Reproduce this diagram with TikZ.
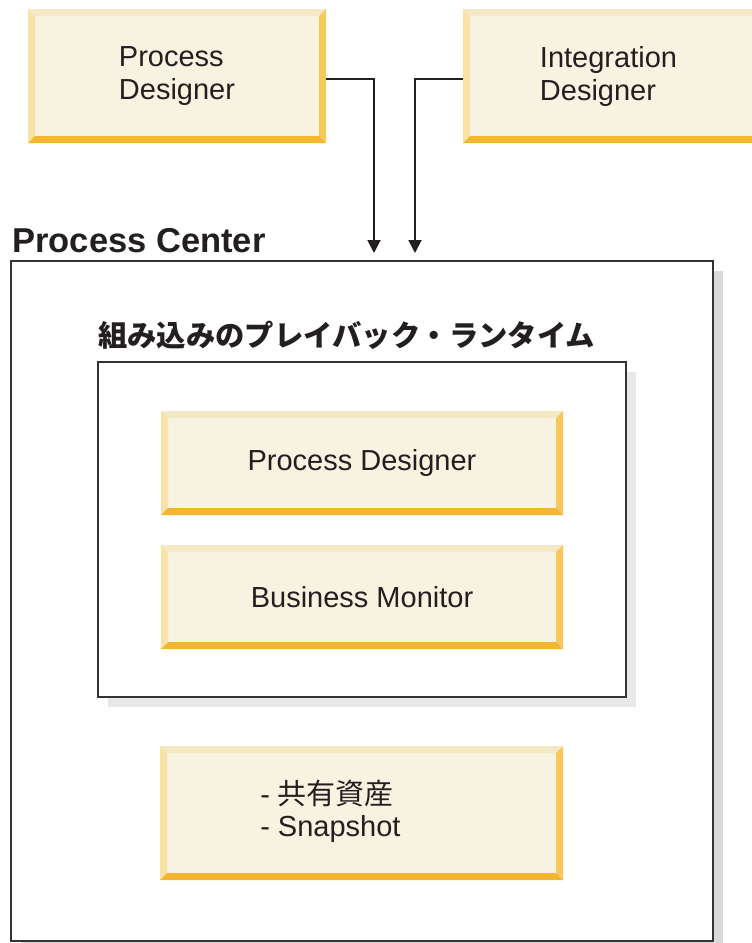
\documentclass[tikz,border=0pt]{standalone}
\usepackage{fontspec}
\setmainfont{Liberation Sans}
\newfontfamily\jp{Noto Sans CJK JP}
\usetikzlibrary{arrows.meta,shadows}
\definecolor{face}{HTML}{F8F2E1}
\definecolor{btop}{HTML}{F5E8C4}
\definecolor{bleft}{HTML}{F7E2A8}
\definecolor{bright}{HTML}{F5C95C}
\definecolor{bbot}{HTML}{F4B62E}
\definecolor{ink}{HTML}{231F20}
\definecolor{frame}{HTML}{333333}
\definecolor{shA}{HTML}{D9D9D9}
\definecolor{shB}{HTML}{E8E8E8}
\def\bw{5.25pt}
\tikzset{
  bevelbox/.style={rectangle, inner sep=0pt, fill=face, text=ink, align=left,
    font=\fontsize{21.75pt}{24.75pt}\selectfont,
    path picture={
      \fill[btop] (path picture bounding box.north west) -- (path picture bounding box.north east)
        -- ([shift={(-\bw,-\bw)}]path picture bounding box.north east)
        -- ([shift={(\bw,-\bw)}]path picture bounding box.north west) -- cycle;
      \fill[bleft] (path picture bounding box.north west) -- ([shift={(\bw,-\bw)}]path picture bounding box.north west)
        -- ([shift={(\bw,\bw)}]path picture bounding box.south west)
        -- (path picture bounding box.south west) -- cycle;
      \fill[bright] (path picture bounding box.north east) -- (path picture bounding box.south east)
        -- ([shift={(-\bw,\bw)}]path picture bounding box.south east)
        -- ([shift={(-\bw,-\bw)}]path picture bounding box.north east) -- cycle;
      \fill[bbot] (path picture bounding box.south west) -- (path picture bounding box.south east)
        -- ([shift={(-\bw,\bw)}]path picture bounding box.south east)
        -- ([shift={(\bw,\bw)}]path picture bounding box.south west) -- cycle;
    }},
  container/.style={rectangle, inner sep=0pt, draw=frame, line width=1.5pt, fill=white},
  label/.style={inner sep=0pt, text=ink},
  arr/.style={draw=ink, line width=1.4pt, -{Triangle[width=9.75pt,length=9.75pt]}},
}
\begin{document}
\begin{tikzpicture}[x=0.75pt,y=-0.75pt]
\useasboundingbox (0,0) rectangle (752,943);

% top boxes
\node[bevelbox, minimum width=223.5pt, minimum height=100.5pt] (pd) at (177,76) {Process\\Designer};
\node[bevelbox, minimum width=222.75pt, minimum height=100.5pt] (id) at (611.5,76) {\hspace*{-4.5pt}Integration\\\hspace*{-4.5pt}Designer};

% Process Center container
\node[container, drop shadow={shadow xshift=7.5pt, shadow yshift=-7.5pt, fill=shA, opacity=1},
      minimum width=526.5pt, minimum height=510pt] (pc) at (362,601) {};
\node[label, anchor=base west, font=\bfseries\fontsize{25.9pt}{30pt}\selectfont] (pclabel) at (12,252) {Process Center};

% embedded runtime container
\node[container, drop shadow={shadow xshift=7.5pt, shadow yshift=-7.5pt, fill=shB, opacity=1},
      minimum width=396pt, minimum height=251.25pt] (rt) at (362,529.5) {};
\node[label, anchor=base west, font=\jp\bfseries\fontsize{22pt}{26pt}\selectfont] (rtlabel) at (98,346) {組み込みのプレイバック・ランタイム};

\node[bevelbox, minimum width=301.5pt, minimum height=78pt] (pd2) at (362,463) {Process Designer};
\node[bevelbox, minimum width=301.5pt, minimum height=78pt] (bm) at (362,597) {Business Monitor};

\node[bevelbox, minimum width=302.25pt, minimum height=100.5pt] (assets) at (361.5,813) {};
\node[label, anchor=west, align=left, font=\fontsize{21.75pt}{24pt}\selectfont] (assetstext) at (260,811) {- {\jp 共有資産}\\- Snapshot};

% connectors
\coordinate (t1) at (374,253);
\coordinate (t2) at (415,253);
\draw[arr] ([yshift=-2.25pt]pd.east) -| (t1);
\draw[arr] ([yshift=-2.25pt]id.west) -| (t2);
\end{tikzpicture}
\end{document}
